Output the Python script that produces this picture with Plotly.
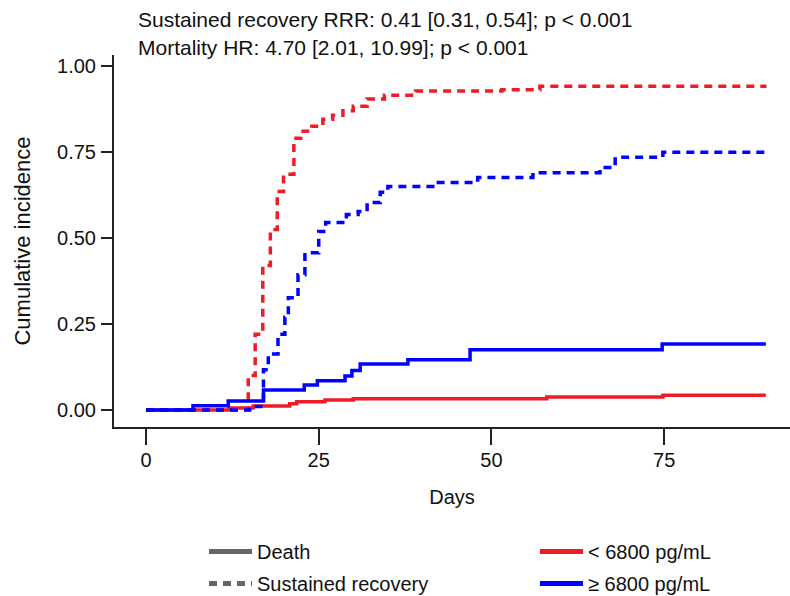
import plotly.graph_objects as go

# ---- data ----
low_recovery_t = [0, 14.8, 15.8, 16.9, 18.0, 19.0, 19.9, 21.4, 22.4, 24.0, 25.6, 27.0, 28.5, 30.0, 32.0, 34.5, 39.0, 51.5, 57.0, 89.8]
low_recovery_y = [0, 0.10, 0.22, 0.42, 0.525, 0.635, 0.685, 0.79, 0.81, 0.825, 0.845, 0.857, 0.87, 0.883, 0.904, 0.915, 0.927, 0.931, 0.941, 0.941]

high_recovery_t = [0, 15.0, 17.0, 17.7, 19.1, 20.1, 20.6, 22.0, 23.0, 25.0, 26.0, 29.0, 30.7, 32.0, 33.9, 35.0, 41.5, 48.0, 56.0, 65.7, 67.9, 74.8, 89.8]
high_recovery_y = [0, 0.01, 0.117, 0.163, 0.22, 0.27, 0.326, 0.393, 0.457, 0.519, 0.545, 0.568, 0.577, 0.603, 0.633, 0.65, 0.661, 0.676, 0.69, 0.705, 0.735, 0.749, 0.749]

low_death_t = [0, 12.0, 15.5, 20.8, 21.8, 25.9, 30.0, 58.0, 74.8, 89.7]
low_death_y = [0, 0.006, 0.012, 0.018, 0.024, 0.029, 0.033, 0.038, 0.043, 0.043]

high_death_t = [0, 6.8, 11.9, 17.0, 22.9, 24.8, 28.8, 29.8, 31.0, 37.9, 46.9, 74.7, 89.7]
high_death_y = [0, 0.0125, 0.026, 0.058, 0.073, 0.085, 0.099, 0.115, 0.134, 0.146, 0.175, 0.192, 0.192]

x_ticks = [0, 25, 50, 75]
y_ticks = [0, 0.25, 0.5, 0.75, 1.0]
y_ticklabels = ["0.00", "0.25", "0.50", "0.75", "1.00"]

group_names = ["< 6800 pg/mL", "\u2265 6800 pg/mL"]
outcome_names = ["Death", "Sustained recovery"]
title_lines = ["Sustained recovery RRR: 0.41 [0.31, 0.54]; p < 0.001",
               "Mortality HR: 4.70 [2.01, 10.99]; p < 0.001"]

RED = "#EE1C25"
BLUE = "#0000FF"
GRAY = "#666666"
DASH = "8px,6px"
LW = 3.5
FONT = "Liberation Sans, Arial, Helvetica, sans-serif"

fig = go.Figure()

fig.add_trace(go.Scatter(x=low_death_t, y=low_death_y, mode="lines", line=dict(color=RED, width=LW, shape="hv"), showlegend=False))
fig.add_trace(go.Scatter(x=low_recovery_t, y=low_recovery_y, mode="lines", line=dict(color=RED, width=LW, shape="hv", dash=DASH), showlegend=False))
fig.add_trace(go.Scatter(x=high_recovery_t, y=high_recovery_y, mode="lines", line=dict(color=BLUE, width=LW, shape="hv", dash=DASH), showlegend=False))
fig.add_trace(go.Scatter(x=high_death_t, y=high_death_y, mode="lines", line=dict(color=BLUE, width=LW, shape="hv"), showlegend=False))

# legend entries: line type
fig.add_trace(go.Scatter(x=[None], y=[None], mode="lines", name=outcome_names[0], legendgroup="a",
                         line=dict(color=GRAY, width=LW), legend="legend"))
fig.add_trace(go.Scatter(x=[None], y=[None], mode="lines", name=outcome_names[1], legendgroup="b",
                         line=dict(color=GRAY, width=LW, dash=DASH), legend="legend"))
# legend entries: group colour
fig.add_trace(go.Scatter(x=[None], y=[None], mode="lines", name=group_names[0], legendgroup="c",
                         line=dict(color=RED, width=LW), legend="legend2"))
fig.add_trace(go.Scatter(x=[None], y=[None], mode="lines", name=group_names[1], legendgroup="d",
                         line=dict(color=BLUE, width=LW), legend="legend2"))

W, H = 790, 596
L, R, T, B = 114, 0, 55, 169
pw, ph = W - L - R, H - T - B

def px_x(p):
    return (p - L) / pw

def px_y(p):
    return (H - B - p) / ph

fig.add_annotation(text=title_lines[0], xref="paper", yref="paper", x=px_x(136), y=px_y(19),
                   xanchor="left", yanchor="middle", showarrow=False, font=dict(size=21, color="#111"))
fig.add_annotation(text=title_lines[1], xref="paper", yref="paper", x=px_x(136), y=px_y(47),
                   xanchor="left", yanchor="middle", showarrow=False, font=dict(size=21, color="#111"))

axis_common = dict(showgrid=False, zeroline=False, showline=True, linecolor="#222", linewidth=2,
                   ticks="outside", tickcolor="#222", tickwidth=2,
                   tickfont=dict(size=20, color="#111", family=FONT))

fig.update_xaxes(range=[-4.63, 93.2], tickvals=x_ticks, ticklen=16, ticklabelstandoff=-2,
                 title=dict(text="Days", font=dict(size=20, color="#111", family=FONT), standoff=20),
                 **axis_common)
fig.update_yaxes(range=[-0.0494, 1.032], tickvals=y_ticks, ticktext=y_ticklabels, ticklen=11, ticklabelstandoff=1,
                 title=dict(text="Cumulative incidence", font=dict(size=22, color="#111", family=FONT), standoff=20),
                 **axis_common)

legend_common = dict(orientation="v", xanchor="left", yanchor="top", bgcolor="rgba(0,0,0,0)",
                     font=dict(size=20, color="#111", family=FONT), tracegroupgap=3, itemsizing="constant",
                     itemwidth=43)

fig.update_layout(
    width=W, height=H,
    margin=dict(l=L, r=R, t=T, b=B, autoexpand=False),
    paper_bgcolor="white", plot_bgcolor="white",
    font=dict(family=FONT, size=20, color="#111"),
    legend=dict(x=px_x(204), y=px_y(532), **legend_common),
    legend2=dict(x=px_x(535), y=px_y(532), **legend_common),
)

fig.write_html("out.html", config={"displayModeBar": False},
               post_script="document.body.style.margin='0';document.body.style.overflow='hidden';")
